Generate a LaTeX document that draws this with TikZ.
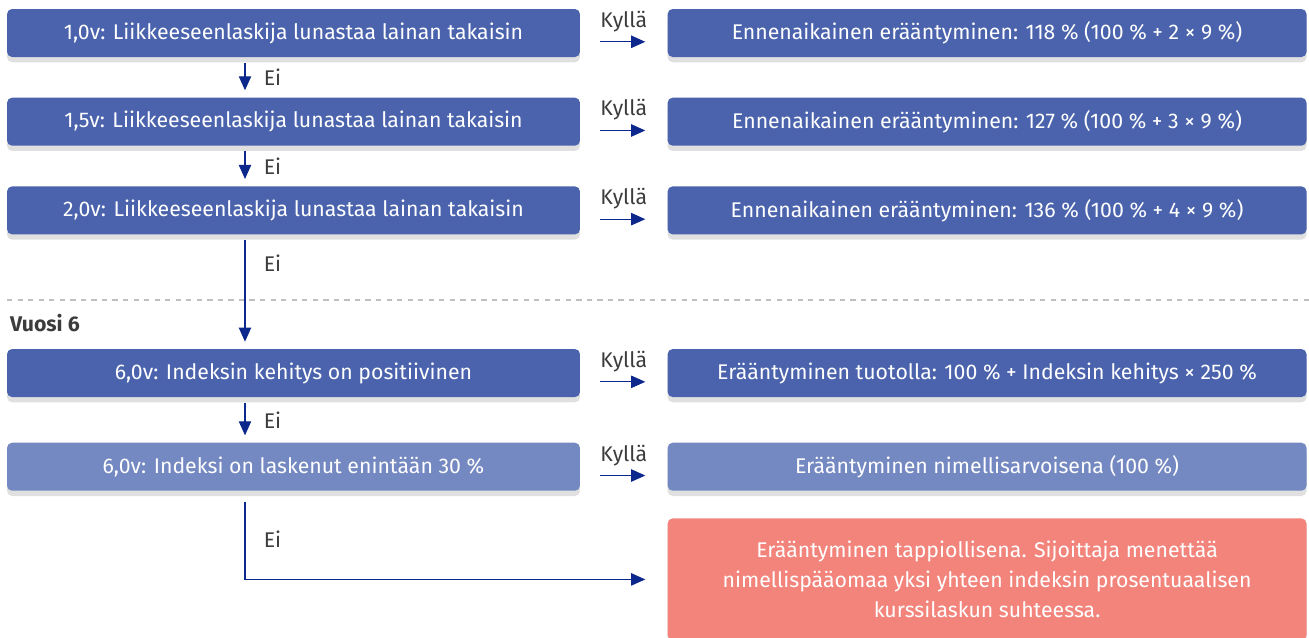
\documentclass[tikz,border=0pt]{standalone}
\usepackage{fontspec}
\setmainfont{Fira Sans}
\usetikzlibrary{positioning, arrows.meta, shadows}
\definecolor{darkbox}{RGB}{74,99,172}
\definecolor{lightbox}{RGB}{116,136,193}
\definecolor{lossbox}{RGB}{242,132,123}
\definecolor{navy}{RGB}{12,40,140}
\definecolor{labgray}{RGB}{60,60,60}
\tikzset{
>={Triangle[length=8pt,width=7pt]}, % filled heads
every node/.style={font=\fontsize{12.1}{14}\selectfont},
box/.style={fill=darkbox, text=white, rounded corners=0.1cm, minimum width=11.46cm, minimum height=0.96cm,
  drop shadow={shadow xshift=0pt, shadow yshift=-3pt, opacity=0.12, fill=black}}, % blocks
wide/.style={box, minimum width=12.78cm}, % outcome blocks
lab/.style={text=labgray}, % Kyllä / Ei
conn/.style={->, navy, line width=0.7pt},
}

\begin{document}
\begin{tikzpicture}[x=0.02cm, y=-0.02cm]
\useasboundingbox (0,0) rectangle (1309,637);
\coordinate (ax) at (245,0);
% years 1-2
\node[box] (q1) at (293.5,33) {1,0v: Liikkeeseenlaskija lunastaa lainan takaisin};
\node[box, below=0.8cm of q1] (q2) {1,5v: Liikkeeseenlaskija lunastaa lainan takaisin};
\node[box, below=0.8cm of q2] (q3) {2,0v: Liikkeeseenlaskija lunastaa lainan takaisin};
\node[wide, right=1.74cm of q1] (r1) {Ennenaikainen erääntyminen: 118 \% (100 \% + 2 × 9 \%)};
\node[wide, right=1.74cm of q2] (r2) {Ennenaikainen erääntyminen: 127 \% (100 \% + 3 × 9 \%)};
\node[wide, right=1.74cm of q3] (r3) {Ennenaikainen erääntyminen: 136 \% (100 \% + 4 × 9 \%)};
% year 6
\draw[dashed, gray!50, line width=0.8pt] (7,300) -- (1309,300);
\node[anchor=west, text=labgray, font=\fontsize{12.1}{14}\selectfont\bfseries] (v6) at (4,323) {Vuosi 6};
\node[box, below=2.28cm of q3] (q4) {6,0v: Indeksin kehitys on positiivinen};
\node[box, fill=lightbox, below=0.9cm of q4] (q5) {6,0v: Indeksi on laskenut enintään 30 \%};
\node[wide, right=1.74cm of q4] (r4) {Erääntyminen tuotolla: 100 \% + Indeksin kehitys × 250 \%};
\node[wide, fill=lightbox, right=1.74cm of q5] (r5) {Erääntyminen nimellisarvoisena (100 \%)};
\node[wide, fill=lossbox, minimum height=2.44cm, align=center, font=\fontsize{12.1}{17}\selectfont,
  below=0.54cm of r5] (r6) {Erääntyminen tappiollisena. Sijoittaja menettää\\nimellispääomaa yksi yhteen indeksin prosentuaalisen\\kurssilaskun suhteessa.};
% yes arrows
\foreach \a/\b in {q1/r1, q2/r2, q3/r3, q4/r4, q5/r5}
  \draw[conn, shorten <=0.4cm, shorten >=0.44cm] ([yshift=-5pt]\a.east) -- node[lab, above=2pt] {Kyllä} ([yshift=-5pt]\b.west);
% no arrows
\draw[conn, shorten <=3pt, shorten >=4pt] (q1.south -| ax) -- node[lab, right=7pt] {Ei} (q2.north -| ax);
\draw[conn, shorten <=3pt, shorten >=4pt] (q2.south -| ax) -- node[lab, right=7pt] {Ei} (q3.north -| ax);
\draw[conn, shorten <=3pt, shorten >=4pt] (q3.south -| ax) -- node[lab, right=7pt, pos=0.25] {Ei} (q4.north -| ax);
\draw[conn, shorten <=3pt, shorten >=4pt] (q4.south -| ax) -- node[lab, right=7pt] {Ei} (q5.north -| ax);
\draw[conn, shorten <=6pt, shorten >=0.44cm] (q5.south -| ax) |- node[lab, right=7pt, pos=0.27] {Ei} (r6.west);
\end{tikzpicture}
\end{document}
